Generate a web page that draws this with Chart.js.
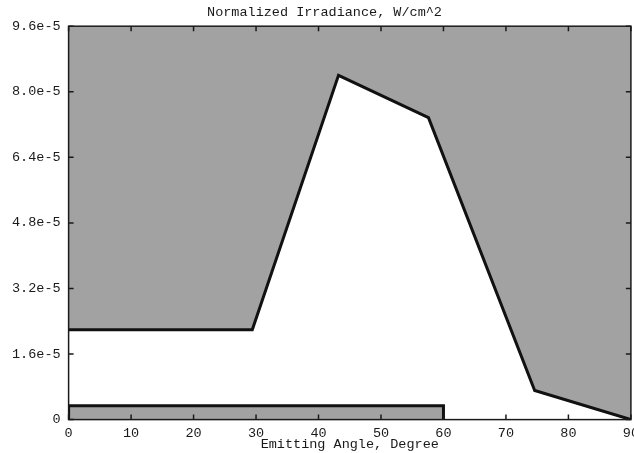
<!DOCTYPE html>
<html>
<head>
<meta charset="utf-8">
<script src="https://cdn.jsdelivr.net/npm/chart.js@4/dist/chart.umd.min.js"></script>
<style>
    html, body { margin: 0; padding: 0; background: #fff; overflow: hidden; }
    #wrap { width: 645px; height: 453px; }
</style>
</head>
<body>
<div id="wrap"><canvas id="irrChart"></canvas></div>
<script>
// emitting angle (degree) vs normalized irradiance (W/cm^2)
var angles = [0, 29.4, 43.2, 57.6, 74.6, 90];
var irradiance = [2.19e-5, 2.19e-5, 8.4e-5, 7.37e-5, 0.71e-5, 0];

// low band along the bottom
var bandAngles = [0, 0, 60, 60];
var bandValues = [0, 0.34e-5, 0.34e-5, 0];

var chartTitle = 'Normalized Irradiance, W/cm^2';
var xTitle = 'Emitting Angle, Degree';
var yMax = 9.6e-5;
var xMax = 90;

var monoFont = { family: '"Liberation Mono", "DejaVu Sans Mono", monospace', size: 13.5 };
var inkColor = '#1a1a1a';
var shadeColor = '#a2a2a2';

function toPoints(xs, ys) {
    return xs.map(function (x, i) {
        return { x: x, y: ys[i] };
    });
}

// frame around the plot plus inward tick marks, placed by the scales
var framePlugin = {
    id: 'frame',
    afterDatasetsDraw: function (chart) {
        var ctx = chart.ctx;
        var a = chart.chartArea;
        var xs = chart.scales.x, ys = chart.scales.y;
        ctx.save();
        ctx.strokeStyle = inkColor;
        ctx.lineWidth = 1.5;
        ctx.strokeRect(a.left, a.top, a.right - a.left, a.bottom - a.top);
        ctx.beginPath();
        xs.ticks.forEach(function (t) {
            var px = xs.getPixelForValue(t.value);
            ctx.moveTo(px, a.bottom);
            ctx.lineTo(px, a.bottom - 5);
            ctx.moveTo(px, a.top);
            ctx.lineTo(px, a.top + 5);
        });
        ys.ticks.forEach(function (t) {
            var py = ys.getPixelForValue(t.value);
            ctx.moveTo(a.left, py);
            ctx.lineTo(a.left + 5, py);
            ctx.moveTo(a.right, py);
            ctx.lineTo(a.right - 5, py);
        });
        ctx.stroke();
        ctx.restore();
    }
};

new Chart(document.getElementById('irrChart'), {
    type: 'line',
    data: {
        datasets: [
            {
                data: toPoints(angles, irradiance),
                borderColor: '#111',
                borderWidth: 3,
                backgroundColor: shadeColor,
                fill: 'end',
                pointRadius: 0,
                tension: 0,
                borderJoinStyle: 'miter'
            },
            {
                data: toPoints(bandAngles, bandValues),
                borderColor: '#111',
                borderWidth: 3,
                backgroundColor: shadeColor,
                fill: 'origin',
                pointRadius: 0,
                tension: 0,
                borderJoinStyle: 'miter'
            }
        ]
    },
    options: {
        responsive: true,
        maintainAspectRatio: false,
        animation: false,
        layout: { padding: { left: 4, right: 0, top: 0, bottom: 0 } },
        plugins: {
            legend: { display: false },
            tooltip: { enabled: false },
            title: {
                display: true,
                text: chartTitle,
                color: inkColor,
                font: { family: monoFont.family, size: 13.5, weight: 'normal' },
                padding: { top: 4, bottom: 6 }
            }
        },
        scales: {
            x: {
                type: 'linear',
                min: 0,
                max: xMax,
                grid: { display: false, drawTicks: false },
                border: { display: false },
                ticks: {
                    count: 10,
                    color: inkColor,
                    font: monoFont,
                    padding: 6,
                    maxRotation: 0
                },
                title: {
                    display: true,
                    text: xTitle,
                    color: inkColor,
                    font: monoFont,
                    padding: { top: -11, bottom: 0 }
                }
            },
            y: {
                type: 'linear',
                min: 0,
                max: yMax,
                grid: { display: false, drawTicks: false },
                border: { display: false },
                ticks: {
                    count: 7,
                    color: inkColor,
                    font: monoFont,
                    padding: 8,
                    callback: function (v) {
                        return v === 0 ? '0' : v.toExponential(1);
                    }
                }
            }
        }
    },
    plugins: [framePlugin]
});
</script>
</body>
</html>
